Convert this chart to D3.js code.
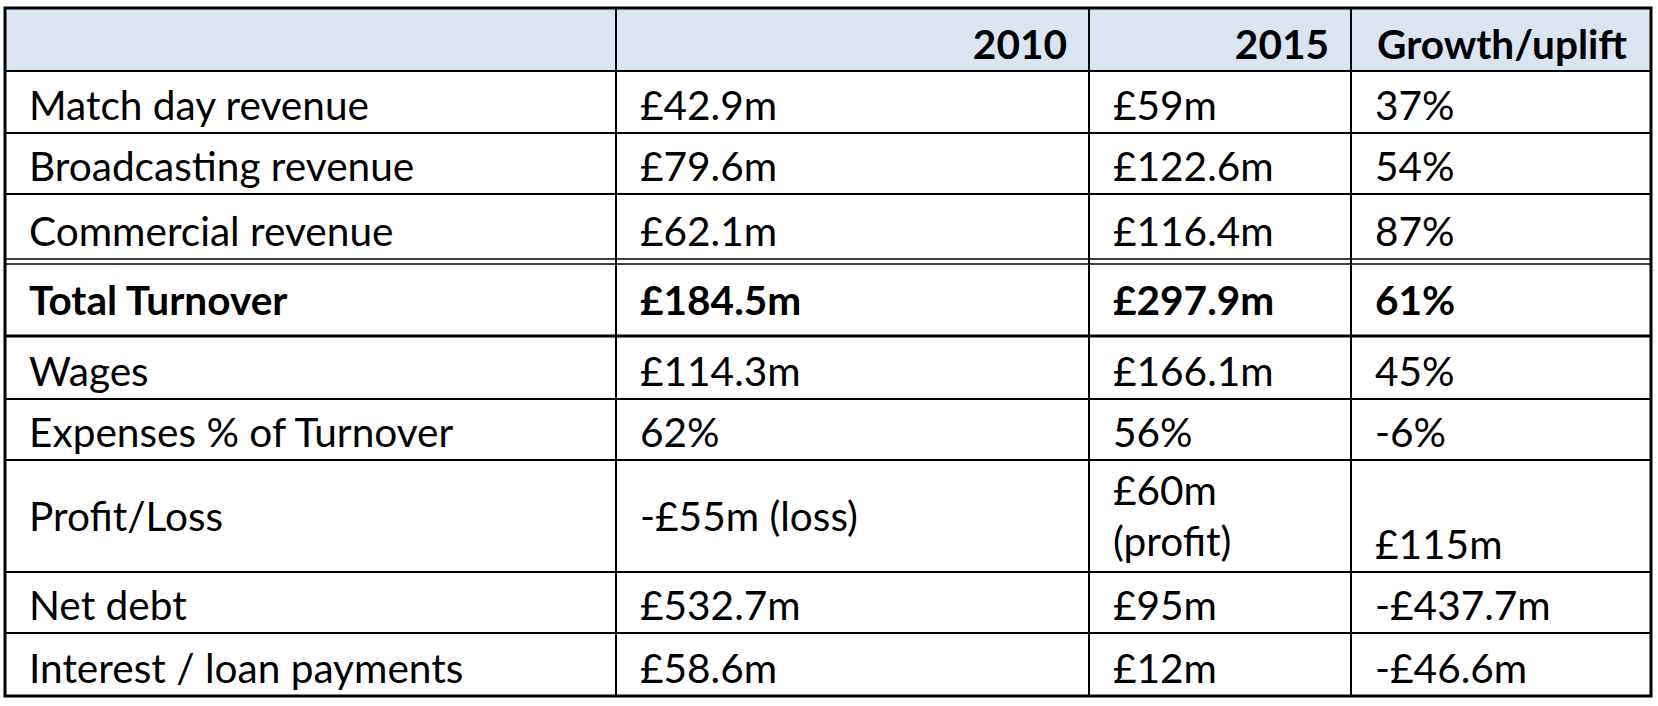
<!DOCTYPE html>
<html>
<head>
<meta charset="utf-8">
<script src="https://cdn.jsdelivr.net/npm/d3@7"></script>
<style>
  body { margin: 0; background: #fff; }
  svg { display: block; }
</style>
</head>
<body>
<script>
var headers = ["", "2010", "2015", "Growth/uplift"];
var metrics = ["Match day revenue", "Broadcasting revenue", "Commercial revenue", "Total Turnover",
  "Wages", "Expenses % of Turnover", "Profit/Loss", "Net debt", "Interest / loan payments"];
var values2010 = ["£42.9m", "£79.6m", "£62.1m", "£184.5m", "£114.3m", "62%", "-£55m (loss)", "£532.7m", "£58.6m"];
var values2015 = ["£59m", "£122.6m", "£116.4m", "£297.9m", "£166.1m", "56%", "£60m (profit)", "£95m", "£12m"];
var growth = ["37%", "54%", "87%", "61%", "45%", "-6%", "£115m", "-£437.7m", "-£46.6m"];

var width = 1658, height = 706;

// layout
var colEdges = [5, 616, 1089, 1351, 1651];
var tableTop = 8;
var headerHeight = 63;
var rowHeights = [62, 61, 65, 72, 63, 61, 112, 61, 63];
var boldRows = ["Total Turnover"];
var centredRows = ["Total Turnover", "Profit/Loss"];
var pad = 24;

var svg = d3.select("body").append("svg")
  .attr("width", width)
  .attr("height", height)
  .style("font-family", "Lato, 'Open Sans', sans-serif");

// pick a font size so the text is as wide as in the original
var probe = svg.append("text").attr("font-size", 100).text("Match day revenue");
var fontSize = 100 * 340 / probe.node().getComputedTextLength();
probe.remove();
var lineHeight = fontSize * 1.25;

// row tops, with a small gap for the double rule above the total
var rowTops = [];
var y = tableTop + headerHeight;
rowHeights.forEach(function (h, i) {
  if (metrics[i] === "Total Turnover") y += 5;
  rowTops.push(y);
  y += h;
});
var tableBottom = y;

var colLeft = d3.scaleOrdinal().domain(d3.range(4)).range(colEdges.slice(0, 4));
var colRight = d3.scaleOrdinal().domain(d3.range(4)).range(colEdges.slice(1));
var rowTop = d3.scaleOrdinal().domain(metrics).range(rowTops);
var rowH = d3.scaleOrdinal().domain(metrics).range(rowHeights);

// header background
svg.append("rect")
  .attr("x", colEdges[0]).attr("y", tableTop)
  .attr("width", colEdges[4] - colEdges[0]).attr("height", headerHeight)
  .attr("fill", "#dbe5f1");

// header text
svg.append("g").selectAll("text")
  .data(headers)
  .enter().append("text")
  .attr("x", function (d, i) { return i === 3 ? colLeft(i) + pad + 2 : colRight(i) - 22; })
  .attr("y", tableTop + headerHeight - 12)
  .attr("text-anchor", function (d, i) { return i === 3 ? "start" : "end"; })
  .attr("font-size", fontSize)
  .attr("font-weight", "bold")
  .attr("fill", "#000")
  .text(function (d) { return d; });

// body cells
var cells = [];
metrics.forEach(function (m, i) {
  [m, values2010[i], values2015[i], growth[i]].forEach(function (v, j) {
    cells.push({ row: m, col: j, text: v });
  });
});

var cellG = svg.append("g").selectAll("g")
  .data(cells)
  .enter().append("g");

cellG.each(function (d) {
  var g = d3.select(this);
  var t = g.append("text")
    .attr("font-size", fontSize)
    .attr("font-weight", boldRows.indexOf(d.row) >= 0 ? "bold" : "normal")
    .attr("fill", "#000");
  // wrap words that do not fit the column
  var avail = colRight(d.col) - colLeft(d.col) - 2 * pad;
  var words = d.text.split(" ");
  var lines = [], line = [];
  words.forEach(function (w) {
    line.push(w);
    t.text(line.join(" "));
    if (t.node().getComputedTextLength() > avail && line.length > 1) {
      line.pop();
      lines.push(line.join(" "));
      line = [w];
    }
  });
  lines.push(line.join(" "));
  t.text(null);

  var top = rowTop(d.row), h = rowH(d.row);
  var centred = centredRows.indexOf(d.row) >= 0 && !(d.row === "Profit/Loss" && d.col === 3);
  var firstBase;
  if (centred) {
    firstBase = top + h / 2 - (lines.length - 1) * lineHeight / 2 + fontSize * 0.36;
  } else {
    firstBase = top + h - 13 - (lines.length - 1) * lineHeight;
  }
  lines.forEach(function (l, k) {
    t.append("tspan")
      .attr("x", colLeft(d.col) + pad)
      .attr("y", firstBase + k * lineHeight)
      .text(l);
  });
});

// grid lines
var grid = svg.append("g").attr("stroke", "#000").attr("fill", "none");

// horizontal rules between rows
var hLines = [{ y: tableTop + headerHeight, w: 2 }];
metrics.forEach(function (m, i) {
  var b = rowTop(m) + rowH(m);
  if (i === metrics.length - 1) return;
  if (metrics[i + 1] === "Total Turnover") {
    hLines.push({ y: b, w: 1.6 });
    hLines.push({ y: b + 5, w: 1.6 });
  } else if (m === "Total Turnover") {
    hLines.push({ y: b, w: 3 });
  } else {
    hLines.push({ y: b, w: 2 });
  }
});
grid.selectAll("line.h")
  .data(hLines)
  .enter().append("line")
  .attr("class", "h")
  .attr("x1", colEdges[0]).attr("x2", colEdges[4])
  .attr("y1", function (d) { return d.y; })
  .attr("y2", function (d) { return d.y; })
  .attr("stroke-width", function (d) { return d.w; });

// column dividers
grid.selectAll("line.v")
  .data(colEdges.slice(1, 4))
  .enter().append("line")
  .attr("class", "v")
  .attr("x1", function (d) { return d; }).attr("x2", function (d) { return d; })
  .attr("y1", tableTop).attr("y2", tableBottom)
  .attr("stroke-width", 2);

// outer frame
grid.append("rect")
  .attr("x", colEdges[0]).attr("y", tableTop)
  .attr("width", colEdges[4] - colEdges[0])
  .attr("height", tableBottom - tableTop)
  .attr("stroke-width", 3);
</script>
</body>
</html>
